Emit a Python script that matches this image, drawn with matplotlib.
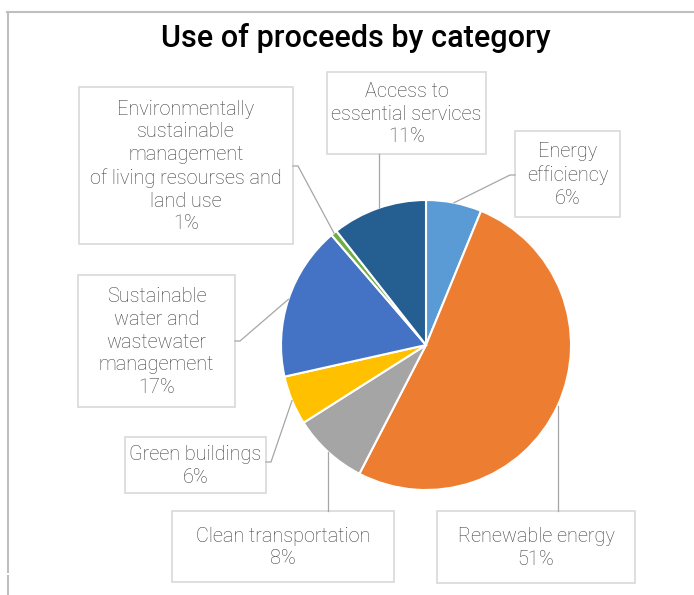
import matplotlib.pyplot as plt
from matplotlib.patches import Rectangle
import numpy as np

plt.rcParams['font.family'] = ['Roboto', 'DejaVu Sans']

# data (share of proceeds, %), clockwise from 12 o'clock
categories = ['Energy\nefficiency',
              'Renewable energy',
              'Clean transportation',
              'Green buildings',
              'Sustainable\nwater and\nwastewater\nmanagement',
              'Environmentally\nsustainable\nmanagement\nof living resourses and\nland use',
              'Access to\nessential services']
values = [6.2, 51.4, 8.4, 5.5, 17.2, 0.7, 10.6]
colors = ['#5B9BD5', '#ED7D31', '#A5A5A5', '#FFC000', '#4472C4', '#70AD47', '#255E91']

# label boxes in pixel coords: x0, y0, x1, y1, anchor side
boxes = [
    (515, 131, 620, 217, 'left'),
    (437, 511, 635, 583, 'top'),
    (172, 511, 394, 582, 'top'),
    (125, 437, 266, 493, 'right'),
    (78, 275, 235, 407, 'right'),
    (79, 87, 293, 244, 'right'),
    (327, 72, 486, 154, 'bottom'),
]
anchor_y = [175, None, None, 462, 341, 166, None]

W, H = 694, 595
fig = plt.figure(figsize=(W / 100, H / 100), dpi=100)
ax = fig.add_axes([0, 0, 1, 1])

cx, cy, r = 426, 345, 145
wedges, _ = ax.pie(values, colors=colors, startangle=-90, counterclock=True,
                   center=(cx, cy), radius=r,
                   wedgeprops=dict(edgecolor='white', linewidth=1.5))
ax.set_xlim(0, W)
ax.set_ylim(H, 0)
ax.set_aspect('equal')
ax.axis('off')

line_col = '#A6A6A6'
for w, v, lab, b, ay in zip(wedges, values, categories, boxes, anchor_y):
    x0, y0, x1, y1, side = b
    ax.add_patch(Rectangle((x0, y0), x1 - x0, y1 - y0, fill=False,
                           edgecolor='#D9D9D9', linewidth=1.2))
    ax.text((x0 + x1) / 2, (y0 + y1) / 2 + 1, f'{lab}\n{v:.0f}%', ha='center', va='center',
            fontsize=14.3, fontweight='light', color='#404040', linespacing=1.25)
    th = np.deg2rad((w.theta1 + w.theta2) / 2)
    px, py = cx + r * np.cos(th), cy + r * np.sin(th)
    if side == 'top':
        ax.plot([px, px], [y0, py], color=line_col, lw=0.9)
    elif side == 'bottom':
        ax.plot([px, px], [y1, py], color=line_col, lw=0.9)
    elif side == 'right':
        ax.plot([x1, x1 + 5, px], [ay, ay, py], color=line_col, lw=0.9)
    else:
        ax.plot([x0, x0 - 5, px], [ay, ay, py], color=line_col, lw=0.9)

ax.text(356, 38, 'Use of proceeds by category', ha='center', va='center',
        fontsize=22, fontweight='medium', color='black')

# chart area border (partly visible)
ax.plot([7, W], [12, 12], color='#BFBFBF', lw=1.5, clip_on=False)
ax.plot([8, 8], [12, 572], color='#BFBFBF', lw=1.5, clip_on=False)
ax.plot([8, 8], [576, H], color='#BFBFBF', lw=1.5, clip_on=False)

fig.savefig('out.png', dpi=100)
